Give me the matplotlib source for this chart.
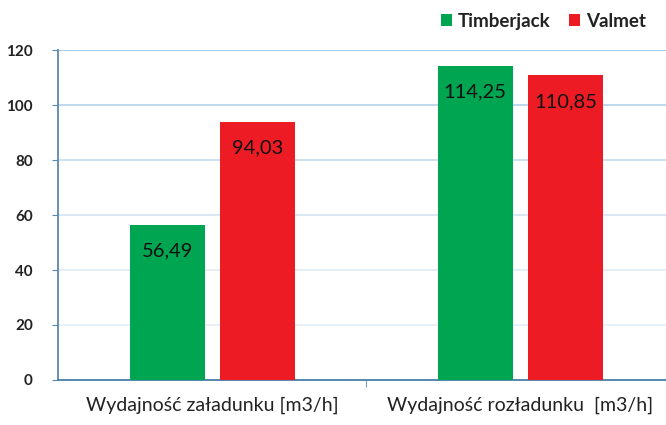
import matplotlib
matplotlib.use("Agg")
import matplotlib.pyplot as plt
import numpy as np

# Data
categories = ["Wydajność załadunku [m3/h]", "Wydajność rozładunku  [m3/h]"]
timberjack = [56.49, 114.25]
valmet = [94.03, 110.85]
series_names = ["Timberjack", "Valmet"]
yticks = [0, 20, 40, 60, 80, 100, 120]

plt.rcParams['font.family'] = ['Lato', 'DejaVu Sans']

fig = plt.figure(figsize=(6.66, 4.25), dpi=100)
ax = fig.add_axes([0.087, 0.106, 0.925, 0.776])

x = np.arange(len(categories))
w = 0.243
green = "#00a551"
red = "#ed1c24"

b1 = ax.bar(x - 0.145, timberjack, w, color=green, label=series_names[0], zorder=3)
b2 = ax.bar(x + 0.148, valmet, w, color=red, label=series_names[1], zorder=3)

# Value labels inside bars, polish decimal comma
for bars, vals in [(b1, timberjack), (b2, valmet)]:
    for bar, v in zip(bars, vals):
        ax.annotate(f"{v:.2f}".replace(".", ","),
                    (bar.get_x() + bar.get_width() / 2, v),
                    xytext=(0, -19), textcoords="offset points",
                    ha="center", va="center", fontsize=14.5, color="#111111", zorder=4)

ax.set_xlim(-0.5, 1.5)
ax.set_ylim(0, 120)
ax.set_yticks(yticks)
ax.set_yticklabels([str(t) for t in yticks], fontsize=11, fontweight="bold", color="#222222")
ax.set_xticks(x)
ax.set_xticklabels(categories, fontsize=14, color="#222222")
ax.tick_params(axis="x", length=0, pad=12)
ax.tick_params(axis="y", length=4, color="#5b87b0", pad=14)

# separator tick between categories on x axis
ax.set_xticks([0.5], minor=True)
ax.tick_params(axis="x", which="minor", length=5, color="#5b87b0", direction="out")

# fading light blue gridlines
for t in yticks[1:]:
    alpha = 0.25 + 0.75 * (t / 120) ** 2
    ax.axhline(t, color="#9cc3e4", lw=1.2, alpha=alpha, zorder=1)

for s in ["top", "right"]:
    ax.spines[s].set_visible(False)
ax.spines["left"].set_color("#5b87b0")
ax.spines["bottom"].set_color("#4a7ea8")
ax.spines["left"].set_linewidth(1.3)
ax.spines["bottom"].set_linewidth(1.3)

leg = fig.legend(loc="upper right", bbox_to_anchor=(0.995, 1.01), ncol=2, frameon=False,
                 handlelength=0.6, handleheight=0.6, handletextpad=0.3, columnspacing=1.0,
                 prop={"weight": "bold", "size": 13.5})
for t in leg.get_texts():
    t.set_color("#222222")

fig.savefig("out.png", dpi=100)
